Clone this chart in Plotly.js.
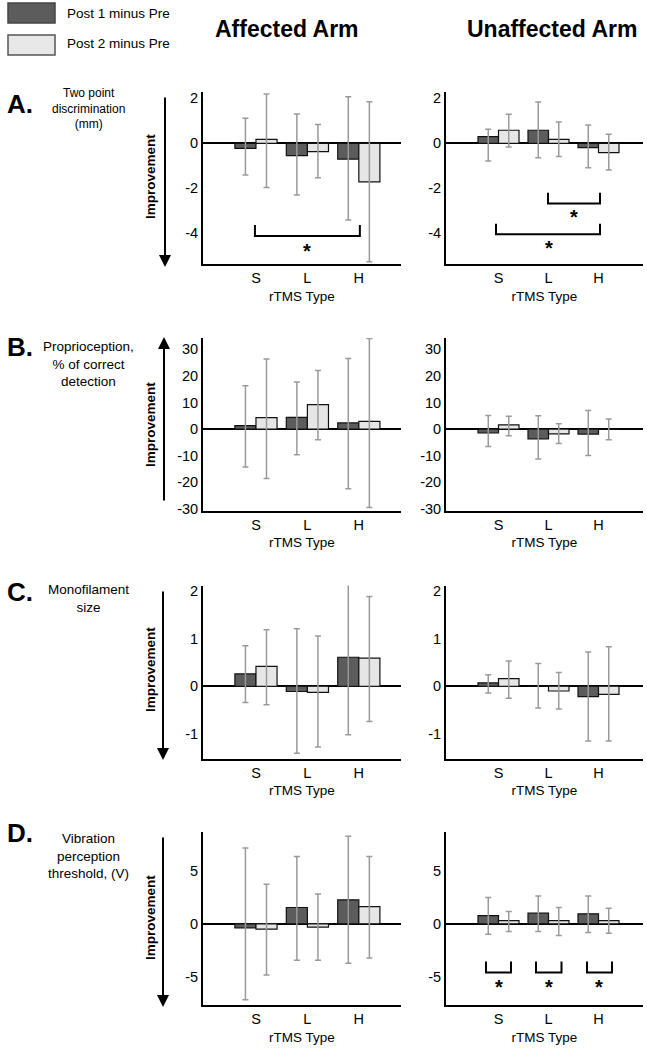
<!DOCTYPE html>
<html>
<head>
<meta charset="utf-8">
<script src="https://cdn.plot.ly/plotly-3.0.1.min.js"></script>
<style>html,body{margin:0;padding:0;background:#fff;}#chart{width:647px;height:1050px;}</style>
</head>
<body>
<div id="chart"></div>
<script>
// ---------------- DATA ----------------
const categories = ['S', 'L', 'H'];
const seriesNames = ['Post 1 minus Pre', 'Post 2 minus Pre'];
const armTitles = ['Affected Arm', 'Unaffected Arm'];
const xTitle = 'rTMS Type';

// A. Two point discrimination (mm)
const A_aff_post1 = [-0.22, -0.55, -0.70];
const A_aff_post1_hi = [1.11, 1.30, 2.07];
const A_aff_post1_lo = [-1.41, -2.30, -3.41];
const A_aff_post2 = [0.18, -0.37, -1.71];
const A_aff_post2_hi = [2.19, 0.84, 1.85];
const A_aff_post2_lo = [-1.96, -1.53, -5.26];
const A_unaff_post1 = [0.30, 0.58, -0.19];
const A_unaff_post1_hi = [0.62, 1.84, 0.81];
const A_unaff_post1_lo = [-0.79, -0.64, -1.08];
const A_unaff_post2 = [0.58, 0.18, -0.41];
const A_unaff_post2_hi = [1.29, 0.95, 0.40];
const A_unaff_post2_lo = [-0.16, -0.59, -1.19];

// B. Proprioception, % of correct detection
const B_aff_post1 = [1.25, 4.4, 2.3];
const B_aff_post1_hi = [16.3, 17.7, 26.6];
const B_aff_post1_lo = [-14.3, -9.7, -22.5];
const B_aff_post2 = [4.3, 9.2, 2.9];
const B_aff_post2_hi = [26.4, 22.1, 34.1];
const B_aff_post2_lo = [-18.6, -4.0, -29.6];
const B_unaff_post1 = [-1.5, -3.7, -1.9];
const B_unaff_post1_hi = [5.1, 5.0, 7.0];
const B_unaff_post1_lo = [-6.6, -11.3, -10.0];
const B_unaff_post2 = [1.6, -1.8, 0.0];
const B_unaff_post2_hi = [4.8, 2.0, 3.8];
const B_unaff_post2_lo = [-2.5, -5.5, -4.0];

// C. Monofilament size
const C_aff_post1 = [0.26, -0.11, 0.61];
const C_aff_post1_hi = [0.85, 1.21, 2.20];
const C_aff_post1_lo = [-0.34, -1.41, -1.02];
const C_aff_post2 = [0.42, -0.13, 0.59];
const C_aff_post2_hi = [1.19, 1.06, 1.89];
const C_aff_post2_lo = [-0.39, -1.28, -0.74];
const C_unaff_post1 = [0.07, 0.0, -0.22];
const C_unaff_post1_hi = [0.24, 0.48, 0.72];
const C_unaff_post1_lo = [-0.14, -0.46, -1.15];
const C_unaff_post2 = [0.16, -0.10, -0.17];
const C_unaff_post2_hi = [0.53, 0.29, 0.83];
const C_unaff_post2_lo = [-0.25, -0.48, -1.15];

// D. Vibration perception threshold, (V)
const D_aff_post1 = [-0.37, 1.53, 2.25];
const D_aff_post1_hi = [7.1, 6.3, 8.2];
const D_aff_post1_lo = [-7.1, -3.4, -3.7];
const D_aff_post2 = [-0.5, -0.31, 1.62];
const D_aff_post2_hi = [3.7, 2.8, 6.3];
const D_aff_post2_lo = [-4.8, -3.4, -3.2];
const D_unaff_post1 = [0.78, 1.0, 0.94];
const D_unaff_post1_hi = [2.47, 2.6, 2.6];
const D_unaff_post1_lo = [-0.97, -0.72, -0.81];
const D_unaff_post2 = [0.31, 0.31, 0.31];
const D_unaff_post2_hi = [1.15, 1.53, 1.47];
const D_unaff_post2_lo = [-0.72, -1.10, -0.87];

const panelLetters = ['A.', 'B.', 'C.', 'D.'];
const panelLabels = [
  ['Two point', 'discrimination', '(mm)'],
  ['Proprioception,', '% of correct', 'detection'],
  ['Monofilament', 'size'],
  ['Vibration', 'perception', 'threshold, (V)']
];
const improvementText = 'Improvement';
const sigMark = '*';

// ---------------- STYLE / LAYOUT ----------------
const W = 647, H = 1050;
const px = x => x / W;
const py = y => 1 - y / H;
const FONT = "'Liberation Sans', Arial, sans-serif";
const DARK = '#5c5c5c', LIGHT = '#e6e6e6', ERRC = '#9a9a9a';

const panels = [
  {data: [[A_aff_post1, A_aff_post1_hi, A_aff_post1_lo, A_aff_post2, A_aff_post2_hi, A_aff_post2_lo],
          [A_unaff_post1, A_unaff_post1_hi, A_unaff_post1_lo, A_unaff_post2, A_unaff_post2_hi, A_unaff_post2_lo]],
   top: 92, bottom: 264, range: [-5.36, 2.28], dtick: 2},
  {data: [[B_aff_post1, B_aff_post1_hi, B_aff_post1_lo, B_aff_post2, B_aff_post2_hi, B_aff_post2_lo],
          [B_unaff_post1, B_unaff_post1_hi, B_unaff_post1_lo, B_unaff_post2, B_unaff_post2_hi, B_unaff_post2_lo]],
   top: 338, bottom: 510.5, range: [-30.7, 34.3], dtick: 10},
  {data: [[C_aff_post1, C_aff_post1_hi, C_aff_post1_lo, C_aff_post2, C_aff_post2_hi, C_aff_post2_lo],
          [C_unaff_post1, C_unaff_post1_hi, C_unaff_post1_lo, C_unaff_post2, C_unaff_post2_hi, C_unaff_post2_lo]],
   top: 585.5, bottom: 758.5, range: [-1.52, 2.12], dtick: 1},
  {data: [[D_aff_post1, D_aff_post1_hi, D_aff_post1_lo, D_aff_post2, D_aff_post2_hi, D_aff_post2_lo],
          [D_unaff_post1, D_unaff_post1_hi, D_unaff_post1_lo, D_unaff_post2, D_unaff_post2_hi, D_unaff_post2_lo]],
   top: 831.5, bottom: 1005, range: [-7.6, 8.65], dtick: 5}
];
const cols = [
  {x0: 203, x1: 401, xr: [-1.03, 2.82]},
  {x0: 446, x1: 643, xr: [-1.05, 2.89]}
];

const traces = [];
const layout = {
  width: W, height: H,
  margin: {l: 0, r: 0, t: 0, b: 0},
  paper_bgcolor: '#fff', plot_bgcolor: 'rgba(0,0,0,0)',
  showlegend: false,
  barmode: 'group', bargap: 0.18, bargroupgap: 0,
  font: {family: FONT, size: 14, color: '#000'},
  shapes: [], annotations: []
};

panels.forEach((p, pi) => {
  // tick values: multiples of dtick inside the range, labelled with a plain hyphen minus
  const tv = [];
  for (let t = Math.ceil(p.range[0] / p.dtick) * p.dtick; t <= p.range[1] + 1e-9; t += p.dtick) tv.push(t);
  cols.forEach((c, ci) => {
    const n = pi * 2 + ci + 1;
    const xa = n === 1 ? 'x' : 'x' + n;
    const ya = n === 1 ? 'y' : 'y' + n;
    const d = p.data[ci];
    [0, 1].forEach(s => {
      const v = d[s * 3], hi = d[s * 3 + 1], lo = d[s * 3 + 2];
      traces.push({
        type: 'bar', x: categories, y: v, name: seriesNames[s],
        xaxis: xa, yaxis: ya, cliponaxis: false,
        marker: {color: s === 0 ? DARK : LIGHT, line: {color: '#111', width: 1.2}},
        error_y: {type: 'data', symmetric: false,
          array: hi.map((h, i) => h - v[i]), arrayminus: lo.map((l, i) => v[i] - l),
          color: ERRC, thickness: 1.5, width: 3},
        hoverinfo: 'skip'
      });
    });
    layout['xaxis' + (n === 1 ? '' : n)] = {
      domain: [px(c.x0), px(c.x1)], anchor: ya, type: 'category', range: c.xr,
      showline: true, linecolor: '#000', linewidth: 2, ticks: '', showgrid: false, zeroline: false,
      tickfont: {family: FONT, size: 14.5}, fixedrange: true,
      title: {text: xTitle, font: {family: FONT, size: 13.5}, standoff: 6}
    };
    layout['yaxis' + (n === 1 ? '' : n)] = {
      domain: [py(p.bottom), py(p.top)], anchor: xa, range: p.range,
      tickmode: 'array', tickvals: tv, ticktext: tv.map(t => String(t)),
      showline: true, linecolor: '#000', linewidth: 2, ticks: '', showgrid: false,
      zeroline: true, zerolinecolor: '#000', zerolinewidth: 2,
      tickfont: {family: FONT, size: 14.5}, fixedrange: true
    };
  });
});

// column titles
layout.annotations.push(
  {xref: 'paper', yref: 'paper', x: px(287), y: py(29), text: '<b>' + armTitles[0] + '</b>', showarrow: false,
   font: {family: FONT, size: 23}, xanchor: 'center', yanchor: 'middle'},
  {xref: 'paper', yref: 'paper', x: px(552), y: py(29), text: '<b>' + armTitles[1] + '</b>', showarrow: false,
   font: {family: FONT, size: 23}, xanchor: 'center', yanchor: 'middle'}
);
// legend
layout.shapes.push(
  {type: 'rect', xref: 'paper', yref: 'paper', x0: px(8), x1: px(55), y0: py(23), y1: py(3),
   fillcolor: DARK, line: {color: '#444', width: 1.5}},
  {type: 'rect', xref: 'paper', yref: 'paper', x0: px(8), x1: px(55), y0: py(55), y1: py(35),
   fillcolor: '#e8e8e8', line: {color: '#555', width: 1.5}}
);
layout.annotations.push(
  {xref: 'paper', yref: 'paper', x: px(65), y: py(13), text: seriesNames[0], showarrow: false,
   font: {family: FONT, size: 13.5}, xanchor: 'left', yanchor: 'middle'},
  {xref: 'paper', yref: 'paper', x: px(65), y: py(44), text: seriesNames[1], showarrow: false,
   font: {family: FONT, size: 13.5}, xanchor: 'left', yanchor: 'middle'}
);

// panel letters, descriptive labels, improvement arrows
const letterY = [104, 347, 592, 833];
const labelCenterY = [109, 364, 598, 856];
const labelSize = [12, 13.5, 13.5, 13.5];
const arrows = [{x: 165, head: 267, tail: 88}, {x: 164, head: 337, tail: 510}, {x: 163, head: 760, tail: 582}, {x: 163, head: 1007, tail: 828}];
const improveY = [177, 425, 670, 918];
panels.forEach((p, pi) => {
  layout.annotations.push({xref: 'paper', yref: 'paper', x: px(20), y: py(letterY[pi]), text: '<b>' + panelLetters[pi] + '</b>',
    showarrow: false, font: {family: FONT, size: 26}, xanchor: 'center', yanchor: 'middle'});
  layout.annotations.push({xref: 'paper', yref: 'paper', x: px(88), y: py(labelCenterY[pi]), text: panelLabels[pi].join('<br>'),
    showarrow: false, align: 'center', font: {family: FONT, size: labelSize[pi]}, xanchor: 'center', yanchor: 'middle'});
  const a = arrows[pi];
  layout.annotations.push({xref: 'paper', yref: 'paper', x: px(a.x), y: py(a.head), ax: 0, ay: a.tail - a.head,
    axref: 'pixel', ayref: 'pixel', text: ' ', showarrow: true, arrowhead: 2, arrowsize: 1.2, arrowwidth: 2, arrowcolor: '#000'});
  layout.annotations.push({xref: 'paper', yref: 'paper', x: px(150), y: py(improveY[pi]), text: '<b>' + improvementText + '</b>',
    textangle: -90, showarrow: false, font: {family: FONT, size: 13.5}, xanchor: 'center', yanchor: 'middle'});
});

// significance brackets (data coordinates of each subplot)
const brackets = [
  {xa: 'x', ya: 'y', x0: -0.02, x1: 2.02, top: -3.63, bot: -4.12, sx: 1.0, sy: -4.6},
  {xa: 'x2', ya: 'y2', x0: 0.99, x1: 2.03, top: -2.19, bot: -2.67, sx: 1.5, sy: -3.08},
  {xa: 'x2', ya: 'y2', x0: -0.05, x1: 2.03, top: -3.57, bot: -4.04, sx: 1.0, sy: -4.49},
  {xa: 'x8', ya: 'y8', x0: -0.25, x1: 0.25, top: -3.53, bot: -4.56, sx: 0, sy: -5.5},
  {xa: 'x8', ya: 'y8', x0: 0.75, x1: 1.26, top: -3.53, bot: -4.56, sx: 1, sy: -5.5},
  {xa: 'x8', ya: 'y8', x0: 1.77, x1: 2.27, top: -3.53, bot: -4.56, sx: 2, sy: -5.5}
];
brackets.forEach(b => {
  layout.shapes.push({type: 'path', xref: b.xa, yref: b.ya,
    path: `M ${b.x0},${b.top} L ${b.x0},${b.bot} L ${b.x1},${b.bot} L ${b.x1},${b.top}`,
    line: {color: '#000', width: 2}});
  layout.annotations.push({xref: b.xa, yref: b.ya, x: b.sx, y: b.sy, text: '<b>' + sigMark + '</b>', showarrow: false,
    font: {family: FONT, size: 20}, xanchor: 'center', yanchor: 'middle', yshift: -4});
});

Plotly.newPlot('chart', traces, layout, {staticPlot: true, displayModeBar: false});
</script>
</body>
</html>
